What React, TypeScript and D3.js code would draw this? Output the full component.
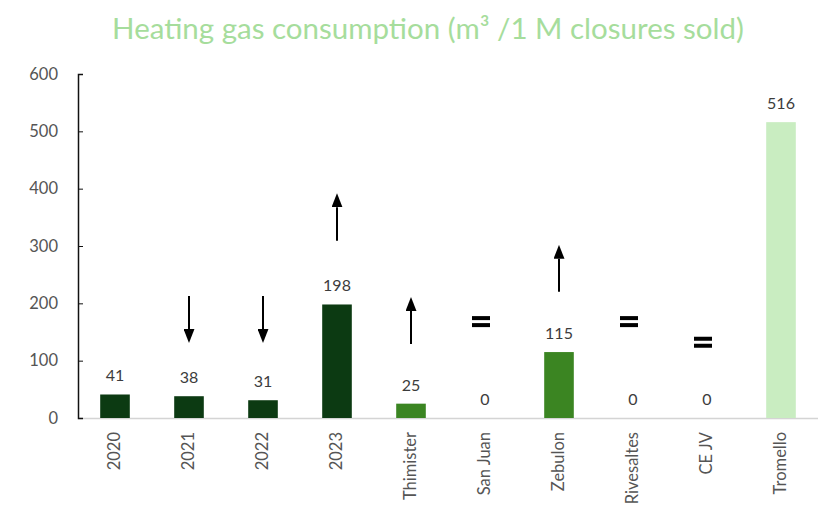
import { useEffect, useRef } from "react";
import * as d3 from "d3";

const categories = ["2020", "2021", "2022", "2023", "Thimister", "San Juan", "Zebulon", "Rivesaltes", "CE JV", "Tromello"];
const values = [41, 38, 31, 198, 25, 0, 115, 0, 0, 516];
const groups = ["year", "year", "year", "year", "site", "site", "site", "site", "site", "plant"];
const yTicks = [0, 100, 200, 300, 400, 500, 600];

// trend markers, drawn in data units
const arrows = [
  { cat: "2021", dir: "down", from: 213, to: 131 },
  { cat: "2022", dir: "down", from: 213, to: 131 },
  { cat: "2023", dir: "up", from: 309, to: 392 },
  { cat: "Thimister", dir: "up", from: 129, to: 211 },
  { cat: "Zebulon", dir: "up", from: 220, to: 302 },
];
const equals = [
  { cat: "San Juan", at: 169 },
  { cat: "Rivesaltes", at: 169 },
  { cat: "CE JV", at: 133 },
];

const colors: Record<string, string> = { year: "#0c3a12", site: "#3b8522", plant: "#c9edc1" };
const font = "'Lato', 'Open Sans', sans-serif";

export default function App() {
  const svgRef = useRef<SVGSVGElement>(null);

  useEffect(() => {
    const width = 818;
    const height = 510;
    const margin = { top: 74, right: 0, bottom: 92, left: 78 };

    const svg = d3.select(svgRef.current);
    svg.selectAll("*").remove();

    const x = d3.scaleBand().domain(categories).range([margin.left, width - margin.right]).paddingInner(0.6).paddingOuter(0.3);
    const y = d3.scaleLinear().domain([0, 600]).range([height - margin.bottom, margin.top]);

    svg
      .append("text")
      .attr("x", 428)
      .attr("y", 39)
      .attr("text-anchor", "middle")
      .attr("font-family", font)
      .attr("font-size", 29.5)
      .attr("fill", "#a6dd9c")
      .text("Heating gas consumption (m³ /1 M closures sold)");

    // baseline
    svg
      .append("line")
      .attr("x1", margin.left)
      .attr("x2", width)
      .attr("y1", y(0) + 0.5)
      .attr("y2", y(0) + 0.5)
      .attr("stroke", "#d4d4d4")
      .attr("stroke-width", 1.5);

    svg
      .append("g")
      .selectAll("rect")
      .data(categories)
      .join("rect")
      .attr("x", (d) => x(d)!)
      .attr("width", x.bandwidth())
      .attr("y", (d, i) => y(values[i]))
      .attr("height", (d, i) => y(0) - y(values[i]))
      .attr("fill", (d, i) => colors[groups[i]]);

    svg
      .append("g")
      .selectAll("text")
      .data(categories)
      .join("text")
      .attr("x", (d) => x(d)! + x.bandwidth() / 2)
      .attr("y", (d, i) => y(values[i]) - 13)
      .attr("text-anchor", "middle")
      .attr("font-family", font)
      .attr("font-size", 16)
      .attr("fill", "#3c3c3c")
      .text((d, i) => values[i]);

    const yAxis = svg
      .append("g")
      .attr("transform", `translate(${margin.left},0)`)
      .call(d3.axisRight(y).tickValues(yTicks).tickSize(5).tickFormat(() => ""));
    yAxis.select(".domain").attr("stroke", "#111").attr("stroke-width", 1.5);
    yAxis.selectAll(".tick line").attr("stroke", "#111");

    svg
      .append("g")
      .selectAll("text")
      .data(yTicks)
      .join("text")
      .attr("x", 58)
      .attr("y", (d) => y(d))
      .attr("dy", "0.35em")
      .attr("text-anchor", "end")
      .attr("font-family", font)
      .attr("font-size", 16.5)
      .attr("fill", "#555")
      .text((d) => d);

    svg
      .append("g")
      .selectAll("text")
      .data(categories)
      .join("text")
      .attr("transform", (d) => `translate(${x(d)! + x.bandwidth() / 2 + 5},${y(0) + 14}) rotate(-90)`)
      .attr("text-anchor", "end")
      .attr("font-family", font)
      .attr("font-size", 16.5)
      .attr("fill", "#555")
      .text((d) => d);

    const defs = svg.append("defs");
    defs
      .append("marker")
      .attr("id", "head")
      .attr("viewBox", "0 0 10 10")
      .attr("refX", 0)
      .attr("refY", 5)
      .attr("markerWidth", 7)
      .attr("markerHeight", 5.5)
      .attr("markerUnits", "strokeWidth")
      .attr("orient", "auto")
      .attr("preserveAspectRatio", "none")
      .append("path")
      .attr("d", "M0,0 L10,5 L0,10 Z")
      .attr("fill", "#000");

    svg
      .append("g")
      .selectAll("line")
      .data(arrows)
      .join("line")
      .attr("x1", (d) => x(d.cat)! + x.bandwidth() / 2)
      .attr("x2", (d) => x(d.cat)! + x.bandwidth() / 2)
      .attr("y1", (d) => y(d.from))
      .attr("y2", (d) => y(d.to) + (d.dir === "up" ? 14 : -14))
      .attr("stroke", "#000")
      .attr("stroke-width", 2)
      .attr("marker-end", "url(#head)");

    const eq = svg
      .append("g")
      .selectAll("g")
      .data(equals)
      .join("g")
      .attr("transform", (d) => `translate(${x(d.cat)! + x.bandwidth() / 2 - 4},${y(d.at)})`);
    eq.append("rect").attr("x", -9).attr("y", -5).attr("width", 18).attr("height", 4).attr("fill", "#000");
    eq.append("rect").attr("x", -9).attr("y", 2).attr("width", 18).attr("height", 4).attr("fill", "#000");
  }, []);

  return (
    <svg
      ref={svgRef}
      width={818}
      height={510}
      style={{ position: "absolute", left: 0, top: 0, background: "#fff" }}
    />
  );
}
